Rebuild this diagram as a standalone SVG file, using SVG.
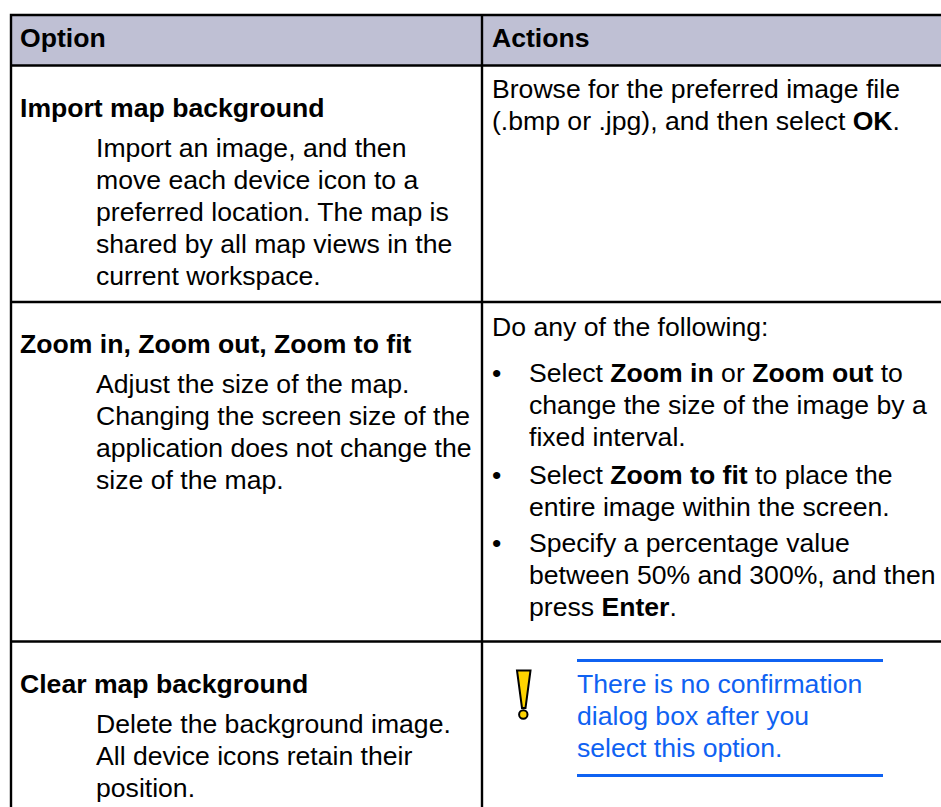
<svg xmlns="http://www.w3.org/2000/svg" width="941" height="807" viewBox="0 0 941 807">
<style>
text{font-family:"Liberation Sans",Arial,sans-serif;font-size:26.6px;fill:#000}
.b{font-weight:bold}
.n{fill:#0f62f2}
.l{stroke:#000;stroke-width:2.4;fill:none}
.c{stroke:#0f62f2;stroke-width:3;fill:none}
</style>
<rect width="941" height="807" fill="#fff"/>
<rect x="10" y="15" width="931" height="50" fill="#bfc0d4"/>
<g id="grid">
<path class="l" d="M941 15H11V807M482 15V807M11 65.500H941M11 302H941M11 641.500H941"/>
</g>
<g id="header">
<text class="b" x="20" y="47">Option</text>
<text class="b" x="492" y="47">Actions</text>
</g>
<g id="row1">
<text class="b" x="20" y="117">Import map background</text>
<text x="96" y="157">Import an image, and then</text>
<text x="96" y="189">move each device icon to a</text>
<text x="96" y="221">preferred location. The map is</text>
<text x="96" y="253">shared by all map views in the</text>
<text x="96" y="285">current workspace.</text>
<text x="492" y="98">Browse for the preferred image file</text>
<text x="492" y="130">(.bmp or .jpg), and then select <tspan class="b">OK</tspan>.</text>
</g>
<g id="row2">
<text class="b" x="20" y="353">Zoom in, Zoom out, Zoom to fit</text>
<text x="96" y="393">Adjust the size of the map.</text>
<text x="96" y="425">Changing the screen size of the</text>
<text x="96" y="457">application does not change the</text>
<text x="96" y="489">size of the map.</text>
<text x="492" y="336">Do any of the following:</text>
<text x="492" y="382">•</text>
<text x="529" y="382">Select <tspan class="b">Zoom in</tspan> or <tspan class="b">Zoom out</tspan> to</text>
<text x="529" y="414">change the size of the image by a</text>
<text x="529" y="446">fixed interval.</text>
<text x="492" y="484">•</text>
<text x="529" y="484">Select <tspan class="b">Zoom to fit</tspan> to place the</text>
<text x="529" y="516">entire image within the screen.</text>
<text x="492" y="552">•</text>
<text x="529" y="552">Specify a percentage value</text>
<text x="529" y="584">between 50% and 300%, and then</text>
<text x="529" y="616">press <tspan class="b">Enter</tspan>.</text>
</g>
<g id="row3">
<text class="b" x="20" y="693">Clear map background</text>
<text x="96" y="733">Delete the background image.</text>
<text x="96" y="765">All device icons retain their</text>
<text x="96" y="797">position.</text>
<g id="note">
<path d="M517 670.500H530.500L525.500 708H522Z" fill="#ffd400" stroke="#000" stroke-width="2"/>
<circle cx="523.300" cy="714.500" r="4.200" fill="#ffd400" stroke="#000" stroke-width="2"/>
<path class="c" d="M577 660.500H883M577 775.500H883"/>
<text class="n" x="577" y="693">There is no confirmation</text>
<text class="n" x="577" y="725">dialog box after you</text>
<text class="n" x="577" y="757">select this option.</text>
</g>
</g>
</svg>
